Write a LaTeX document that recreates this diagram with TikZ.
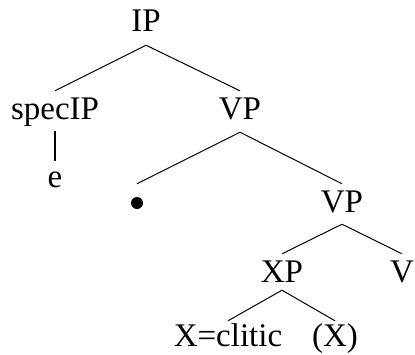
\documentclass[tikz,border=0pt]{standalone}
\usepackage{fontspec}
\setmainfont{Liberation Serif}
\usepackage{tikz}
\usetikzlibrary{positioning}

\begin{document}
\begin{tikzpicture}[
    x=1pt, y=-1pt,
    every node/.style={inner sep=0pt},
    cat/.style={font=\fontsize{33}{36}\selectfont, anchor=base, text height=22pt, text depth=0pt},
    branch/.style={line width=1pt}
]

% Canvas
\useasboundingbox (0,0) rectangle (415,354);

% Tree nodes
\node[cat] (ip) at (146,31) {IP};
\node[cat] (specip) at (55,119) {specIP};
\node[cat] (vpa) at (240,119) {VP};
\node[cat] (e) at (55,187) {e};
\node[circle, fill=black, minimum size=12pt] (dot) at (137,203) {};
\node[cat] (vpb) at (342,212) {VP};
\node[cat] (xp) at (282,282) {XP};
\node[cat] (v) at (402,282) {V};
\node[cat] (clitic) at (228,346) {X=clitic};
\node[cat] (xx) at (335,346) {(X)};

% Branches
\draw[branch] ([yshift=-14pt]ip.south) -- ([yshift=6pt]specip.north);
\draw[branch] ([yshift=-14pt]ip.south) -- ([yshift=6pt]vpa.north);
\draw[branch, line width=1.6pt] ([yshift=-12pt]specip.south) -- ([yshift=4pt]e.north);
\draw[branch] ([yshift=-13pt]vpa.south) -- ([yshift=13pt]dot.north);
\draw[branch] ([yshift=-13pt]vpa.south) -- ([yshift=6pt]vpb.north);
\draw[branch] ([yshift=-12pt]vpb.south) -- ([yshift=6pt]xp.north);
\draw[branch] ([yshift=-12pt]vpb.south) -- ([yshift=6pt]v.north);
\draw[branch] ([yshift=-8pt]xp.south) -- ([yshift=3pt]clitic.north);
\draw[branch] ([yshift=-8pt]xp.south) -- ([yshift=3pt]xx.north);

\end{tikzpicture}
\end{document}
